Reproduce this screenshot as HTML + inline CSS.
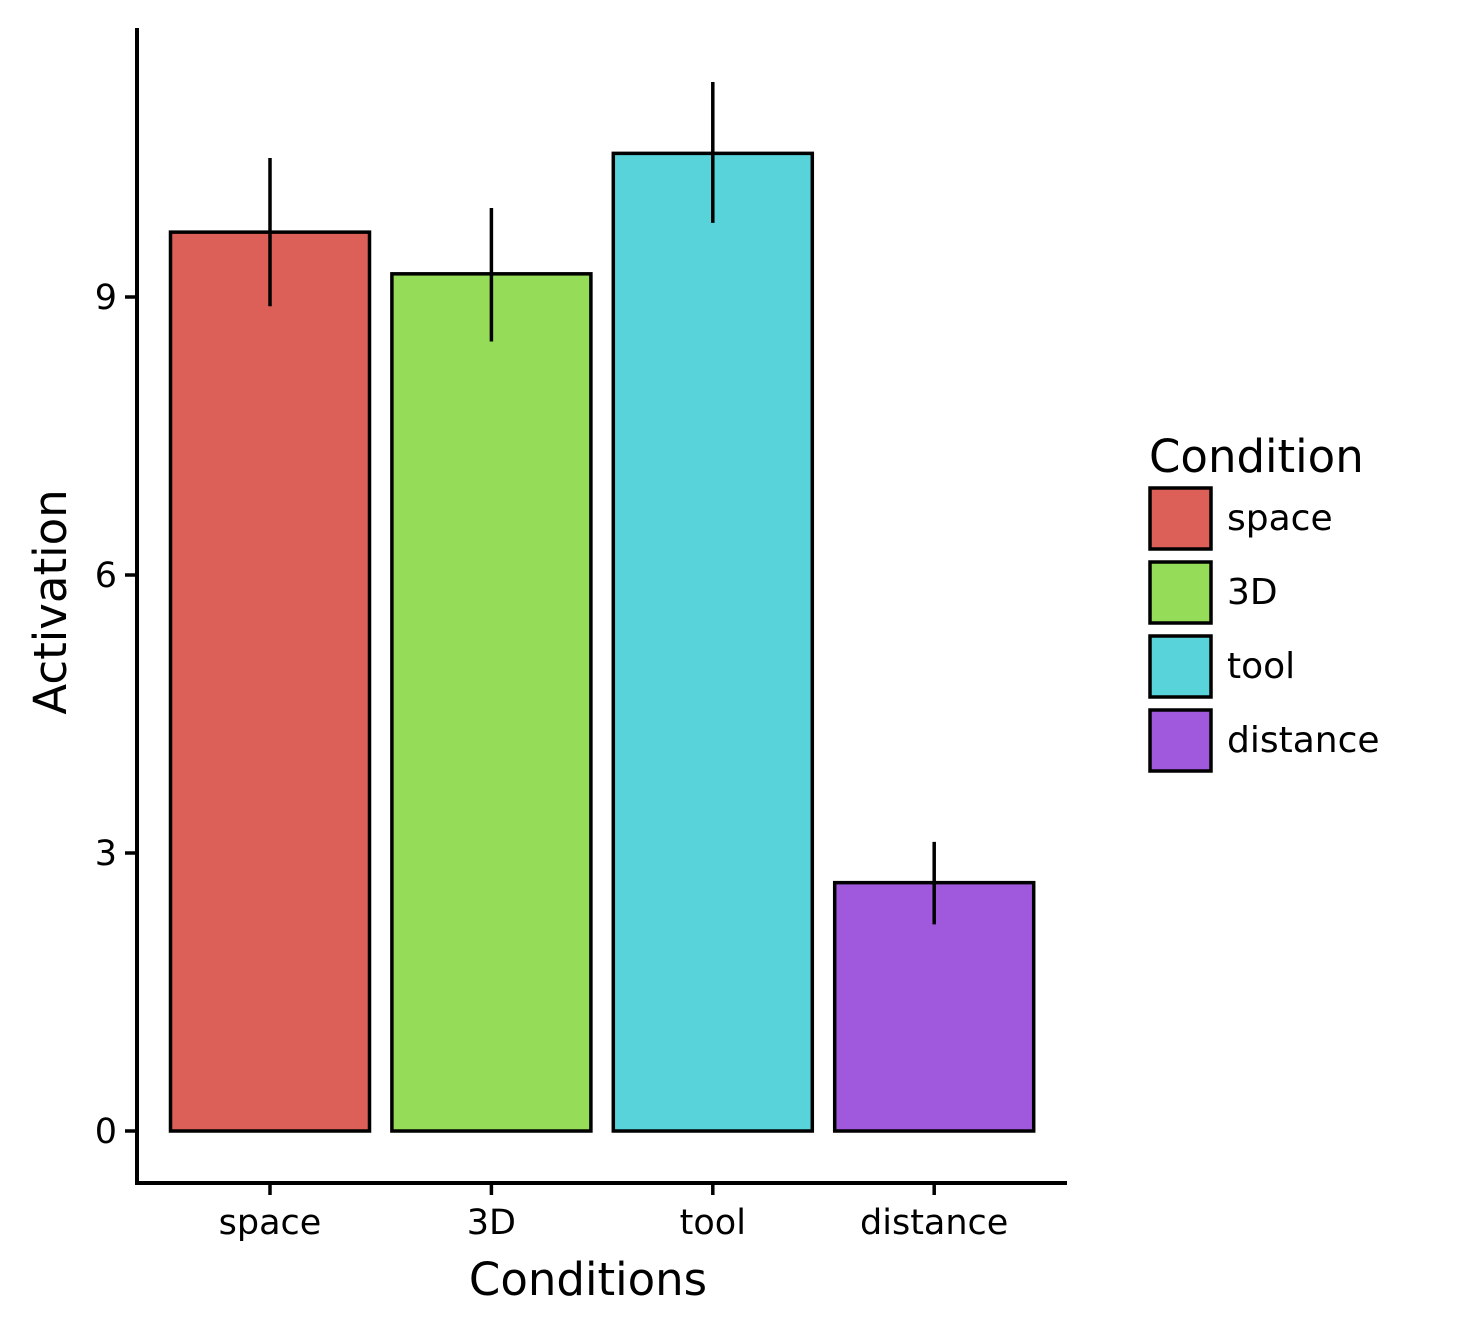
<!DOCTYPE html>
<html><head><meta charset="utf-8"><style>
body{margin:0;background:#fff}
svg{display:block;font-family:"DejaVu Sans","Liberation Sans",sans-serif}
</style></head><body>
<svg id="chart" width="1462" height="1334" xmlns="http://www.w3.org/2000/svg">
<rect width="1462" height="1334" fill="#fff"/>
<g id="bars"></g>
<g id="axes"></g>
<g id="legend"></g>
</svg>
<script>
const categories = ["space","3D","tool","distance"];
const values = [9.70, 9.25, 10.55, 2.68];
const errLow = [8.90, 8.52, 9.80, 2.23];
const errHigh = [10.50, 9.96, 11.32, 3.12];
const colors = ["#dc6057","#95dd58","#59d3da","#a059dc"];
const yTicks = [0,3,6,9];

const NS="http://www.w3.org/2000/svg";
function mk(tag,attrs,parent,text){const e=document.createElementNS(NS,tag);for(const k in attrs)e.setAttribute(k,attrs[k]);if(text!==undefined)e.textContent=text;parent.appendChild(e);return e;}
const y0=1131, pxPerUnit=(1131-297)/9;
function y(v){return y0-v*pxPerUnit;}
const band=221.4, x0=270;
function xc(i){return x0+i*band;}
const bw=199;

const gb=document.getElementById('bars');
categories.forEach((c,i)=>{
  const r=mk('rect',{x:xc(i)-bw/2,y:y(values[i]),width:bw,height:y(0)-y(values[i]),fill:colors[i],stroke:'#000','stroke-width':3.5},gb);
  
  
  const l=mk('line',{x1:xc(i),x2:xc(i),y1:y(errHigh[i]),y2:y(errLow[i]),stroke:'#000','stroke-width':3.5},gb);
  
  
});

const ga=document.getElementById('axes');
const ya=mk('line',{x1:137,x2:137,y1:28,y2:1185,stroke:'#000','stroke-width':4},ga);


const xa=mk('line',{x1:135,x2:1067,y1:1183,y2:1183,stroke:'#000','stroke-width':4},ga);


yTicks.forEach(t=>{
  mk('line',{x1:125,x2:137,y1:y(t),y2:y(t),stroke:'#000','stroke-width':3.5},ga);
  const tx=mk('text',{x:117,y:y(t)+12,'text-anchor':'end','font-size':35},ga,String(t));
  
  
});
categories.forEach((c,i)=>{
  mk('line',{x1:xc(i),x2:xc(i),y1:1183,y2:1195,stroke:'#000','stroke-width':3.5},ga);
  const tx=mk('text',{x:xc(i),y:1234,'text-anchor':'middle','font-size':35},ga,c);
  
  
});
const xt=mk('text',{x:588,y:1295,'text-anchor':'middle','font-size':45},ga,'Conditions');


const yt=mk('text',{x:0,y:0,'text-anchor':'middle','font-size':45,transform:'translate(66,602) rotate(-90)'},ga,'Activation');



const gl=document.getElementById('legend');
const lt=mk('text',{x:1149,y:472,'font-size':45},gl,'Condition');


categories.forEach((c,i)=>{
  const ky=488+i*74;
  const k=mk('rect',{x:1150,y:ky,width:61,height:61,fill:colors[i],stroke:'#000','stroke-width':3.5},gl);
  
  
  const t=mk('text',{x:1227,y:ky+42,'font-size':36},gl,c);
  
  
});
</script>
</body></html>
